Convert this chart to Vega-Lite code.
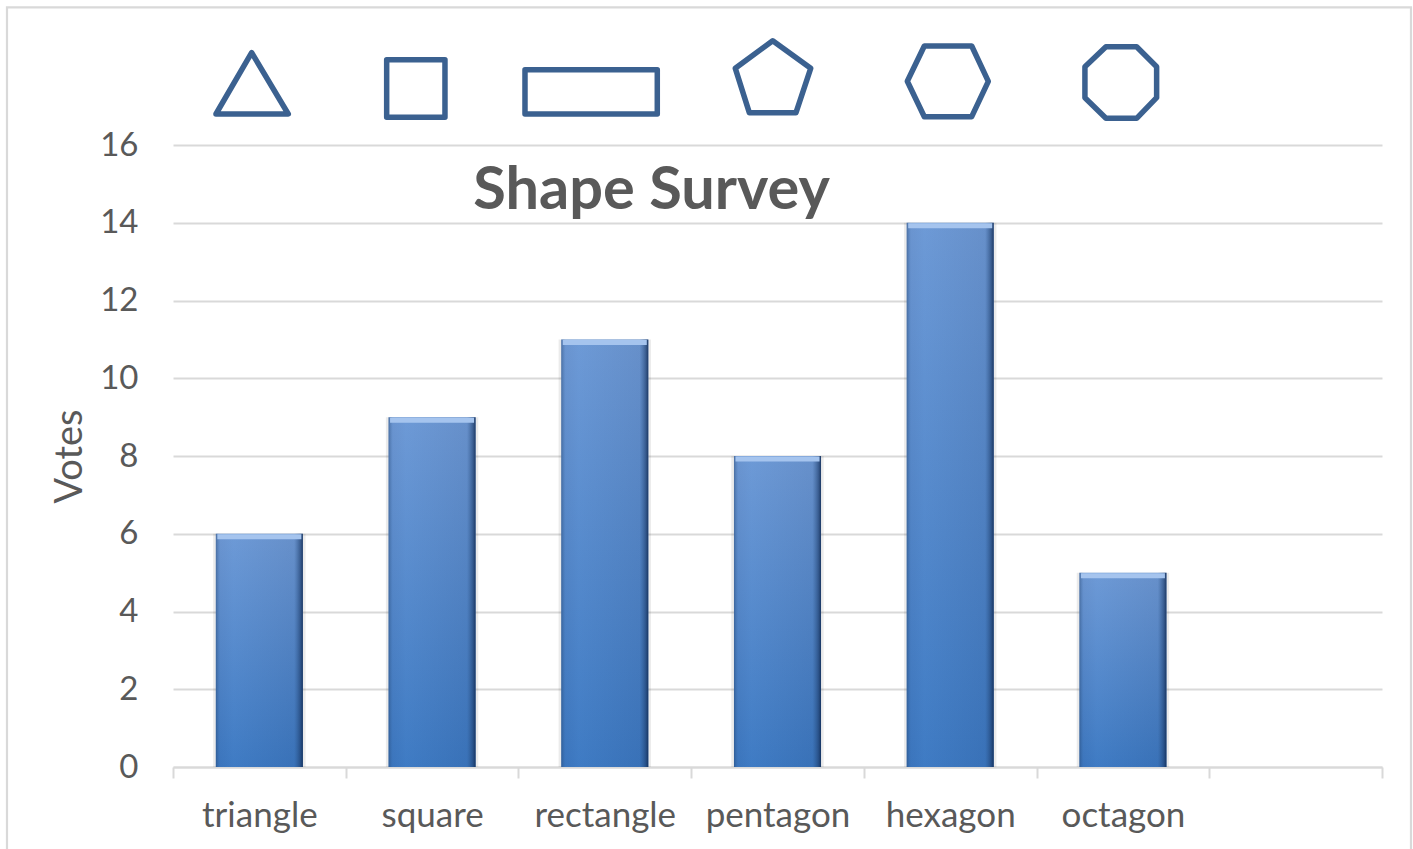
{
"$schema":"https://vega.github.io/schema/vega-lite/v6.json",
"width":1209,"height":622,
"autosize":"none",
"padding":{"left":173,"top":145,"right":31,"bottom":82},
"background":"white",
"view":{"stroke":null},
"title":{"text":"Shape Survey","font":"Lato","fontSize":59.5,"fontWeight":"bold","color":"#595959","anchor":"middle","frame":"group","baseline":"alphabetic","offset":0,"dx":-126,"dy":262},
"data":{"values":[
{"shape":"triangle","votes":6},
{"shape":"square","votes":9},
{"shape":"rectangle","votes":11},
{"shape":"pentagon","votes":8},
{"shape":"hexagon","votes":14},
{"shape":"octagon","votes":5}
]},
"resolve":{"scale":{"x":"independent"}},
"layer":[
{
"encoding":{
"x":{"field":"shape","type":"nominal","sort":null,
"scale":{"domain":["triangle","square","rectangle","pentagon","hexagon","octagon"," "],"paddingInner":0,"paddingOuter":0},
"axis":{"title":null,"labelFont":"Lato","labelFontSize":35,"labelColor":"#595959","labelAngle":0,"labelPadding":37,"labelBaseline":"middle","tickBand":"extent","tickColor":"#d9d9d9","tickWidth":2,"tickSize":11,"domainColor":"#d9d9d9","domainWidth":2,"grid":false}}
},
"layer":[
{
"mark":{"type":"bar","fill":"#000000","opacity":0.08,"width":{"band":0.535}},
"encoding":{"y":{"field":"votes","type":"quantitative","scale":{"domain":[0,16],"range":[622,0],"nice":false,"zero":false},
"axis":{"title":"Votes","titleFont":"Lato","titleFontSize":38,"titleFontWeight":"normal","titleColor":"#595959","titlePadding":10,"labelFont":"Lato","labelFontSize":33,"labelColor":"#595959","labelPadding":35,"values":[0,2,4,6,8,10,12,14,16],"domain":false,"ticks":false,"grid":true,"gridColor":"#d9d9d9","gridWidth":2}}}
},
{
"mark":{"type":"bar","width":{"band":0.504},"fill":{"gradient":"linear","x1":0,"y1":0,"x2":0,"y2":1,"stops":[{"offset":0,"color":"#7099d4"},{"offset":1,"color":"#3b76bf"}]}},
"encoding":{"y":{"field":"votes","type":"quantitative"}}
},
{
"mark":{"type":"bar","width":{"band":0.504},"fill":{"gradient":"linear","x1":0,"y1":0,"x2":1,"y2":0,"stops":[{"offset":0,"color":"rgba(30,60,100,0.45)"},{"offset":0.05,"color":"rgba(60,110,170,0.1)"},{"offset":0.2,"color":"rgba(90,160,230,0.12)"},{"offset":0.9,"color":"rgba(40,80,130,0.12)"},{"offset":0.97,"color":"rgba(25,55,100,0.6)"},{"offset":1,"color":"rgba(15,40,80,0.85)"}]}},
"encoding":{"y":{"field":"votes","type":"quantitative"}}
},
{
"mark":{"type":"tick","size":84,"thickness":5,"color":"#a5c4ee","opacity":1,"yOffset":3},
"encoding":{"y":{"field":"votes","type":"quantitative"}}
},
{
"mark":{"type":"point","filled":false,"stroke":"#3b6190","strokeWidth":5.5,"strokeJoin":"round","opacity":1,"size":4,"clip":false},
"encoding":{
"y":{"datum":17.6,"type":"quantitative"},
"shape":{"field":"shape","type":"nominal","legend":null,"scale":{
"domain":["triangle","square","rectangle","pentagon","hexagon","octagon"],
"range":[
"M-7.7,-30.1L28.9,31.2L-43.4,31.2Z",
"M-45.4,-23.1L12.9,-23.1L12.9,34.5L-45.4,34.5Z",
"M-79.8,-13.1L52.5,-13.1L52.5,31.2L-79.8,31.2Z",
"M-4.8,-42.1L33.2,-14.5L18.5,29.9L-28.2,29.9L-42.2,-14.5Z",
"M-25.9,-36.8L21.5,-36.8L38.1,-1.5L21.5,33.9L-25.9,33.9L-42.9,-1.5Z",
"M-17,-36.1L13.7,-36.1L33.7,-16.1L33.7,14.9L13.7,35.5L-17,35.5L-38,14.9L-38,-16.1Z"
]}}
}
}
]
},
{
"data":{"values":[{"frame":"outline"}]},
"mark":{"type":"rect","fill":null,"stroke":"#d9d9d9","strokeWidth":2.2,"clip":false},
"encoding":{
"x":{"datum":0,"type":"quantitative","axis":null,"scale":{"domain":[0,1],"range":[-166,1238]}},
"x2":{"datum":1},
"y":{"datum":19.54,"type":"quantitative"},
"y2":{"datum":-2.5}
}
}
]
}
